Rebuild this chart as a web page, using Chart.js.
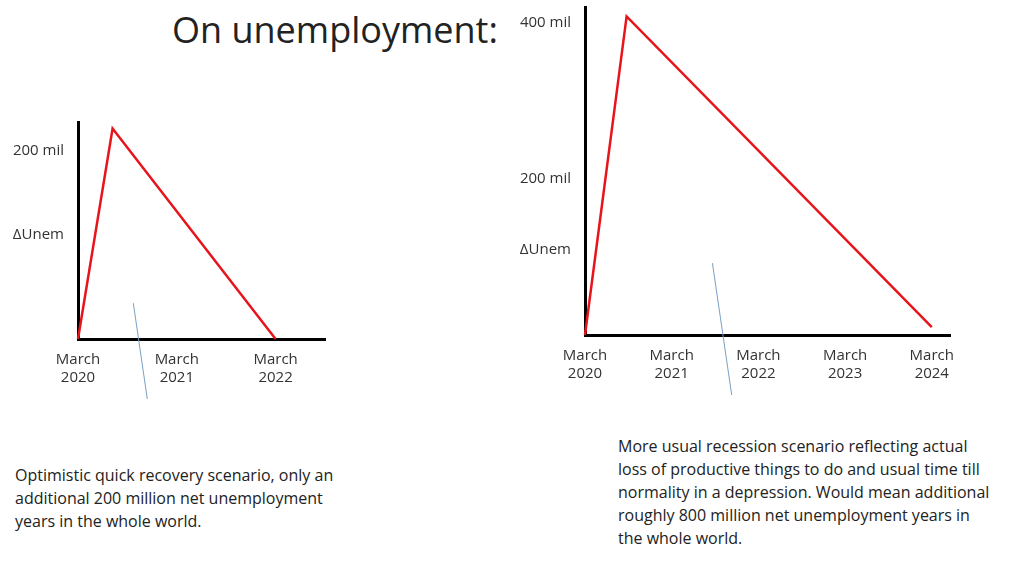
<!DOCTYPE html>
<html>
<head>
<meta charset="utf-8">
<script src="https://cdn.jsdelivr.net/npm/chart.js@4/dist/chart.umd.min.js"></script>
<style>
  body { margin:0; width:1024px; height:576px; background:#fff; position:relative; overflow:hidden; font-family:"Open Sans", Lato, sans-serif; }
  .box { position:absolute; }
  .txt { position:absolute; font-size:16px; line-height:23px; color:#222; }
  #title { position:absolute; left:172px; top:5px; font-size:36px; color:#222; }
</style>
</head>
<body>
<div id="title">On unemployment:</div>
<div class="box" style="left:0;top:107px;width:340px;height:292px"><canvas id="c1"></canvas></div>
<div class="box" style="left:510px;top:-8px;width:455px;height:403px"><canvas id="c2"></canvas></div>
<div class="txt" style="left:15px;top:464px;width:345px">Optimistic quick recovery scenario, only an additional 200 million net unemployment years in the whole world.</div>
<div class="txt" style="left:618px;top:435px;width:372px">More usual recession scenario reflecting actual loss of productive things to do and usual time till normality in a depression. Would mean additional roughly 800 million net unemployment years in the whole world.</div>
<script>
// left: optimistic scenario
var quickX = [2020, 2020.35, 2022];
var quickY = [0, 223, 0];
var quickTicks = [2020, 2021, 2022];
var quickYTicks = [110, 200];
var quickYLabels = ["\u0394Unem", "200 mil"];
var quickPointer = [[2020.56, 38], [2020.78, -120]];

// right: usual recession
var usualX = [2020, 2020.48, 2024];
var usualY = [0, 408, 10];
var usualTicks = [2020, 2021, 2022, 2023, 2024];
var usualYTicks = [109, 200, 400];
var usualYLabels = ["\u0394Unem", "200 mil", "400 mil"];
var usualPointer = [[2021.47, 92], [2021.72, -98]];

function pts(xs, ys) { return xs.map(function (x, i) { return { x: x, y: ys[i] }; }); }

function makeChart(id, xs, ys, xt, yt, yl, ptr, xmax, ymax, yw) {
    var tickFont = { family: "Open Sans", size: 15 };
    return new Chart(document.getElementById(id), {
        type: 'scatter',
        data: {
            datasets: [{
                data: pts(xs, ys), showLine: true, borderColor: '#e8141c', borderWidth: 2.5,
                pointRadius: 0, tension: 0, clip: false
            }, {
                data: ptr.map(function (p) { return { x: p[0], y: p[1] }; }), showLine: true,
                borderColor: '#7aa0c4', borderWidth: 1, pointRadius: 0, clip: false
            }]
        },
        options: {
            responsive: true, maintainAspectRatio: false, animation: false,
            layout: { padding: { right: 15, top: 0 } },
            plugins: { legend: { display: false }, tooltip: { enabled: false } },
            scales: {
                x: {
                    type: 'linear', min: 2020, max: xmax,
                    grid: { display: false }, border: { color: '#000', width: 3 },
                    afterBuildTicks: function (s) { s.ticks = xt.map(function (v) { return { value: v }; }); },
                    afterFit: function (s) { s.height = 60; },
                    ticks: { color: '#333', font: tickFont, maxRotation: 0, padding: 4,
                        callback: function (v) { return ["March", String(v)]; } }
                },
                y: {
                    min: 0, max: ymax,
                    grid: { display: false }, border: { color: '#000', width: 3 },
                    afterBuildTicks: function (s) { s.ticks = yt.map(function (v) { return { value: v }; }); },
                    afterFit: function (s) { s.width = yw; },
                    ticks: { color: '#333', font: tickFont, padding: 6,
                        callback: function (v) { return yl[yt.indexOf(v)]; } }
                }
            }
        }
    });
}

makeChart("c1", quickX, quickY, quickTicks, quickYTicks, quickYLabels, quickPointer, 2022.5, 230, 78);
makeChart("c2", usualX, usualY, usualTicks, usualYTicks, usualYLabels, usualPointer, 2024.21, 420, 75);
</script>
</body>
</html>
